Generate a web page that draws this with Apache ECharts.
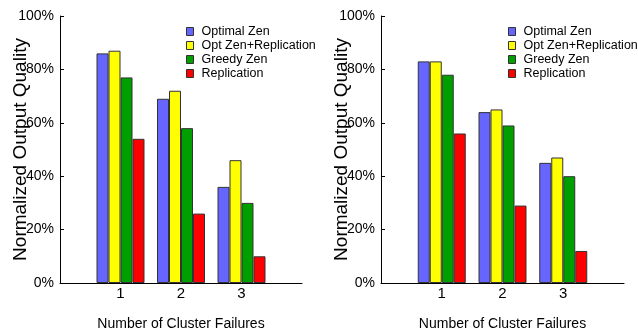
<!DOCTYPE html>
<html>
<head>
<meta charset="utf-8">
<script src="https://cdn.jsdelivr.net/npm/echarts@6/dist/echarts.min.js"></script>
<style>
  html, body { margin: 0; padding: 0; background: #fff; }
  #chart { width: 638px; height: 333px; }
</style>
</head>
<body>
<div id="chart"></div>
<script>
// Cluster failure counts shown on both panels
const categories = ['1', '2', '3'];
const seriesNames = ['Optimal Zen', 'Opt Zen+Replication', 'Greedy Zen', 'Replication'];
const yTicks = [0, 20, 40, 60, 80, 100];

// Left panel: normalized output quality (%)
const leftOptimalZen = [86, 69, 36];
const leftOptZenReplication = [87, 72, 46];
const leftGreedyZen = [77, 58, 30];
const leftReplication = [54, 26, 10];

// Right panel: normalized output quality (%)
const rightOptimalZen = [83, 64, 45];
const rightOptZenReplication = [83, 65, 47];
const rightGreedyZen = [78, 59, 40];
const rightReplication = [56, 29, 12];

const colors = ['#6666ff', '#ffff00', '#009f00', '#ff0000'];
const font = '"Liberation Sans", Arial, Helvetica, sans-serif';

// Pad the category axis with empty slots so groups sit at 1/4, 2/4, 3/4 of the axis
const axisData = [''].concat(categories, ['']);
const pad = arr => [null].concat(arr, [null]);

const grids = [
  { left: 60, top: 16, width: 242, height: 267, outerBoundsMode: 'none', containLabel: false },
  { left: 381, top: 16, width: 243, height: 267, outerBoundsMode: 'none', containLabel: false }
];

function xAxisFor(i) {
  return {
    gridIndex: i,
    type: 'category',
    data: axisData,
    boundaryGap: false,
    axisLine: { lineStyle: { color: '#000', width: 1 } },
    axisTick: { show: false },
    axisLabel: { color: '#000', fontFamily: font, fontSize: 15, margin: 3, interval: 0 },
    name: 'Number of Cluster Failures',
    nameLocation: 'middle',
    nameGap: 34,
    nameMoveOverlap: false,
    nameTextStyle: { color: '#000', fontFamily: font, fontSize: 14 }
  };
}

function yAxisFor(i) {
  return {
    gridIndex: i,
    type: 'value',
    min: yTicks[0],
    max: yTicks[yTicks.length - 1],
    interval: yTicks[1] - yTicks[0],
    axisLine: { show: true, lineStyle: { color: '#000', width: 1 } },
    axisTick: { show: true, inside: true, length: 4, lineStyle: { color: '#000' } },
    splitLine: { show: false },
    axisLabel: { color: '#000', fontFamily: font, fontSize: 14, margin: 6, formatter: '{value}%' },
    name: 'Normalized Output Quality',
    nameLocation: 'middle',
    nameRotate: 90,
    nameGap: 30,
    nameMoveOverlap: false,
    nameTextStyle: { color: '#000', fontFamily: font, fontSize: 19 }
  };
}

function barsFor(i, values) {
  return values.map((v, k) => ({
    name: seriesNames[k],
    type: 'bar',
    xAxisIndex: i,
    yAxisIndex: i,
    data: pad(v),
    barWidth: 12,
    barGap: '0%',
    itemStyle: { color: colors[k], borderColor: '#333', borderWidth: 1 },
    emphasis: { disabled: true }
  }));
}

function legendFor(left) {
  return {
    data: seriesNames,
    orient: 'vertical',
    left: left,
    top: 25,
    padding: 0,
    icon: 'rect',
    itemWidth: 7,
    itemHeight: 8,
    itemGap: 1,
    selectedMode: false,
    itemStyle: { borderColor: '#333', borderWidth: 1 },
    textStyle: { color: '#000', fontFamily: font, fontSize: 12.5, padding: [0, 0, 0, 3] }
  };
}

const chart = echarts.init(document.getElementById('chart'), null, { renderer: 'canvas' });
chart.setOption({
  animation: false,
  backgroundColor: '#fff',
  color: colors,
  legend: [legendFor(186), legendFor(508)],
  grid: grids,
  xAxis: [xAxisFor(0), xAxisFor(1)],
  yAxis: [yAxisFor(0), yAxisFor(1)],
  series: barsFor(0, [leftOptimalZen, leftOptZenReplication, leftGreedyZen, leftReplication])
    .concat(barsFor(1, [rightOptimalZen, rightOptZenReplication, rightGreedyZen, rightReplication]))
});
</script>
</body>
</html>
